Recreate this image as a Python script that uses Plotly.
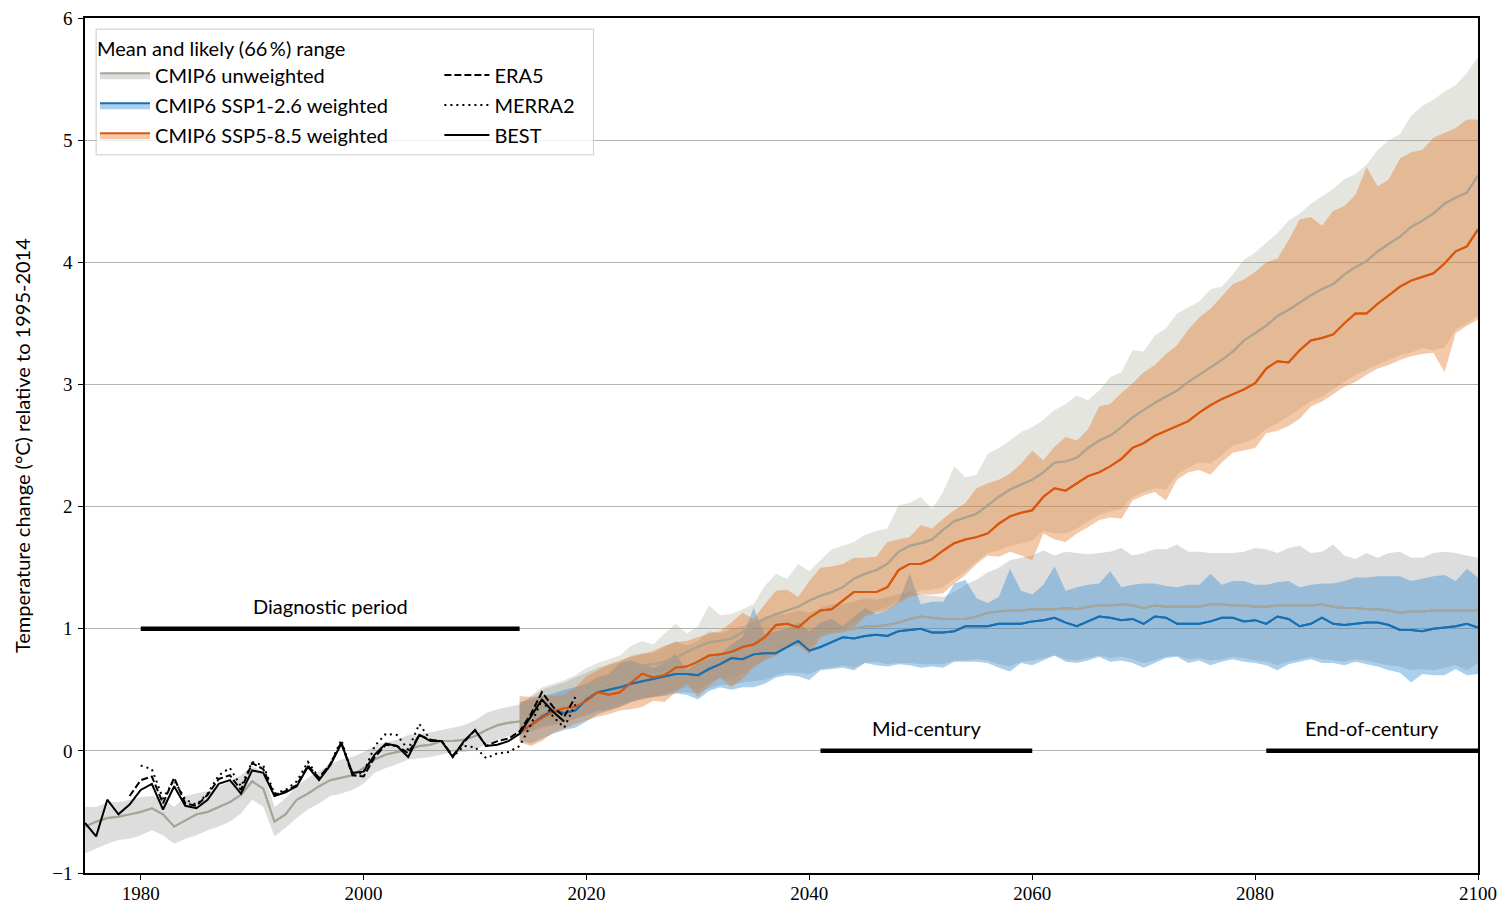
import plotly.graph_objects as go

# ---- historical CMIP6 (unweighted) 1975-2014 ----
hist_years = list(range(1975, 2015))
hist_mean = [-0.62, -0.58, -0.55, -0.54, -0.52, -0.50, -0.47, -0.52, -0.62, -0.57,
             -0.52, -0.50, -0.46, -0.42, -0.36, -0.25, -0.31, -0.58, -0.52, -0.40,
             -0.35, -0.29, -0.24, -0.22, -0.20, -0.14, -0.07, -0.03, -0.01, 0.01,
             0.04, 0.05, 0.08, 0.08, 0.09, 0.12, 0.17, 0.21, 0.23, 0.24]
hist_lo = [-0.84, -0.80, -0.76, -0.73, -0.72, -0.69, -0.65, -0.69, -0.76, -0.72,
           -0.69, -0.65, -0.62, -0.58, -0.51, -0.40, -0.46, -0.70, -0.63, -0.55,
           -0.48, -0.43, -0.37, -0.35, -0.32, -0.27, -0.18, -0.14, -0.11, -0.07,
           -0.06, -0.05, -0.03, -0.01, -0.01, 0.01, 0.05, 0.09, 0.12, 0.13]
hist_hi = [-0.46, -0.46, -0.42, -0.42, -0.40, -0.38, -0.37, -0.39, -0.46, -0.37,
           -0.35, -0.33, -0.29, -0.25, -0.20, -0.13, -0.17, -0.46, -0.39, -0.29,
           -0.22, -0.17, -0.11, -0.07, -0.05, -0.01, 0.04, 0.07, 0.09, 0.13,
           0.14, 0.15, 0.17, 0.19, 0.21, 0.25, 0.31, 0.34, 0.36, 0.38]

# ---- observations ----
best_years = list(range(1975, 2019))
best = [-0.59, -0.70, -0.40, -0.52, -0.44, -0.32, -0.27, -0.48, -0.29, -0.45,
        -0.47, -0.40, -0.27, -0.24, -0.35, -0.16, -0.18, -0.37, -0.34, -0.29,
        -0.13, -0.24, -0.12, 0.06, -0.18, -0.17, -0.03, 0.06, 0.04, -0.05,
        0.13, 0.08, 0.08, -0.05, 0.08, 0.17, 0.04, 0.05, 0.08, 0.14,
        0.28, 0.42, 0.32, 0.24]
era5_years = list(range(1979, 2020))
era5 = [-0.37, -0.24, -0.21, -0.43, -0.22, -0.43, -0.45, -0.36, -0.23, -0.20,
        -0.32, -0.10, -0.15, -0.36, -0.33, -0.28, -0.12, -0.22, -0.11, 0.07,
        -0.20, -0.21, -0.05, 0.05, 0.04, -0.02, 0.13, 0.09, 0.08, -0.04,
        0.07, 0.17, 0.04, 0.08, 0.10, 0.16, 0.30, 0.48, 0.36, 0.28,
        0.44]
merra2_years = list(range(1980, 2020))
merra2 = [-0.12, -0.15, -0.39, -0.24, -0.40, -0.44, -0.35, -0.20, -0.14, -0.29,
          -0.09, -0.12, -0.35, -0.32, -0.25, -0.09, -0.22, -0.11, 0.09, -0.20,
          -0.18, 0.04, 0.14, 0.13, 0.01, 0.22, 0.09, 0.08, -0.05, 0.04,
          0.03, -0.06, -0.02, -0.01, 0.04, 0.21, 0.42, 0.28, 0.19, 0.38]

# ---- projections 2014-2100 ----
proj_years = list(range(2014, 2101))

u85_mean = [0.24, 0.28, 0.33, 0.37, 0.41, 0.44, 0.50, 0.53, 0.56, 0.60,
            0.65, 0.70, 0.71, 0.73, 0.76, 0.81, 0.85, 0.89, 0.90, 0.92,
            0.97, 1.03, 1.08, 1.12, 1.15, 1.18, 1.23, 1.27, 1.30, 1.34,
            1.41, 1.45, 1.48, 1.53, 1.63, 1.68, 1.70, 1.73, 1.81, 1.88,
            1.91, 1.94, 2.01, 2.08, 2.14, 2.18, 2.22, 2.28, 2.36, 2.37,
            2.40, 2.48, 2.54, 2.58, 2.65, 2.73, 2.79, 2.85, 2.90, 2.95,
            3.02, 3.08, 3.14, 3.20, 3.27, 3.36, 3.42, 3.48, 3.56, 3.61,
            3.67, 3.73, 3.78, 3.82, 3.90, 3.96, 4.01, 4.09, 4.15, 4.21,
            4.29, 4.34, 4.40, 4.48, 4.53, 4.57, 4.71]
u85_hi = [0.38, 0.45, 0.52, 0.55, 0.58, 0.62, 0.68, 0.72, 0.75, 0.78,
          0.86, 0.90, 0.87, 0.96, 1.04, 0.96, 1.02, 1.19, 1.11, 1.12,
          1.16, 1.20, 1.35, 1.45, 1.41, 1.53, 1.47, 1.56, 1.65, 1.68,
          1.71, 1.77, 1.80, 1.82, 2.01, 2.03, 2.08, 1.98, 2.12, 2.33,
          2.24, 2.26, 2.43, 2.48, 2.54, 2.61, 2.65, 2.71, 2.79, 2.84,
          2.91, 2.87, 2.95, 3.06, 3.10, 3.28, 3.27, 3.40, 3.46, 3.58,
          3.63, 3.68, 3.78, 3.80, 3.90, 4.02, 4.08, 4.16, 4.24, 4.34,
          4.40, 4.48, 4.54, 4.60, 4.68, 4.72, 4.80, 4.92, 5.00, 5.05,
          5.20, 5.28, 5.33, 5.40, 5.45, 5.55, 5.68]
u85_lo = [0.13, 0.16, 0.20, 0.22, 0.25, 0.27, 0.30, 0.33, 0.33, 0.36,
          0.40, 0.42, 0.44, 0.47, 0.50, 0.52, 0.50, 0.56, 0.60, 0.58,
          0.63, 0.70, 0.75, 0.80, 0.86, 0.87, 0.85, 0.95, 0.98, 1.00,
          1.04, 1.12, 1.15, 1.18, 1.23, 1.28, 1.31, 1.32, 1.34, 1.41,
          1.47, 1.55, 1.62, 1.64, 1.68, 1.70, 1.72, 1.80, 1.78, 1.78,
          1.82, 1.88, 1.93, 1.96, 1.98, 2.08, 2.12, 2.15, 2.14, 2.26,
          2.32, 2.36, 2.35, 2.42, 2.50, 2.52, 2.56, 2.64, 2.68, 2.74,
          2.80, 2.86, 2.90, 2.96, 3.02, 3.08, 3.12, 3.16, 3.20, 3.24,
          3.26, 3.30, 3.28, 3.30, 3.45, 3.50, 3.56]

u26_mean = [0.24, 0.28, 0.32, 0.36, 0.39, 0.42, 0.47, 0.50, 0.52, 0.55,
            0.58, 0.62, 0.63, 0.65, 0.67, 0.69, 0.72, 0.75, 0.77, 0.79,
            0.81, 0.84, 0.86, 0.88, 0.90, 0.92, 0.92, 0.95, 0.97, 0.99,
            1.00, 1.02, 1.02, 1.03, 1.05, 1.08, 1.10, 1.09, 1.08, 1.08,
            1.08, 1.10, 1.13, 1.14, 1.15, 1.15, 1.16, 1.16, 1.16, 1.17,
            1.16, 1.18, 1.19, 1.19, 1.20, 1.19, 1.17, 1.19, 1.18, 1.18,
            1.18, 1.18, 1.20, 1.20, 1.19, 1.19, 1.18, 1.18, 1.19, 1.19,
            1.19, 1.19, 1.20, 1.18, 1.17, 1.17, 1.16, 1.16, 1.15, 1.13,
            1.14, 1.14, 1.15, 1.15, 1.15, 1.15, 1.15]
u26_hi = [0.38, 0.44, 0.50, 0.53, 0.56, 0.60, 0.64, 0.68, 0.70, 0.73,
          0.78, 0.80, 0.80, 0.85, 0.90, 0.86, 0.90, 0.98, 0.96, 1.00,
          1.02, 1.05, 1.10, 1.12, 1.12, 1.15, 1.13, 1.17, 1.20, 1.20,
          1.22, 1.25, 1.24, 1.26, 1.28, 1.30, 1.28, 1.27, 1.26, 1.30,
          1.36, 1.40, 1.46, 1.50, 1.56, 1.58, 1.60, 1.64, 1.60, 1.63,
          1.62, 1.61, 1.62, 1.63, 1.66, 1.60, 1.62, 1.65, 1.65, 1.69,
          1.63, 1.63, 1.62, 1.62, 1.62, 1.63, 1.66, 1.65, 1.62, 1.66,
          1.68, 1.62, 1.63, 1.69, 1.60, 1.57, 1.62, 1.58, 1.62, 1.63,
          1.58, 1.58, 1.62, 1.63, 1.62, 1.60, 1.58]
u26_lo = [0.13, 0.16, 0.19, 0.21, 0.23, 0.26, 0.29, 0.32, 0.34, 0.37,
          0.40, 0.42, 0.44, 0.46, 0.48, 0.48, 0.47, 0.51, 0.54, 0.54,
          0.56, 0.57, 0.58, 0.62, 0.64, 0.64, 0.63, 0.67, 0.68, 0.70,
          0.68, 0.72, 0.73, 0.71, 0.72, 0.72, 0.71, 0.71, 0.71, 0.74,
          0.74, 0.75, 0.74, 0.71, 0.69, 0.73, 0.74, 0.76, 0.78, 0.75,
          0.74, 0.76, 0.78, 0.76, 0.77, 0.75, 0.72, 0.74, 0.77, 0.78,
          0.75, 0.76, 0.74, 0.75, 0.77, 0.76, 0.74, 0.73, 0.70, 0.73,
          0.75, 0.77, 0.75, 0.74, 0.73, 0.75, 0.74, 0.72, 0.70, 0.69,
          0.66, 0.67, 0.66, 0.68, 0.70, 0.66, 0.72]

w26_mean = [0.15, 0.21, 0.28, 0.33, 0.31, 0.33, 0.42, 0.48, 0.50, 0.52,
            0.55, 0.57, 0.59, 0.61, 0.63, 0.63, 0.62, 0.67, 0.71, 0.76,
            0.75, 0.79, 0.80, 0.80, 0.85, 0.90, 0.82, 0.85, 0.89, 0.93,
            0.92, 0.94, 0.95, 0.94, 0.98, 0.99, 1.00, 0.97, 0.97, 0.98,
            1.02, 1.02, 1.02, 1.04, 1.04, 1.04, 1.06, 1.07, 1.09, 1.05,
            1.02, 1.06, 1.10, 1.09, 1.07, 1.08, 1.04, 1.10, 1.09, 1.04,
            1.04, 1.04, 1.06, 1.09, 1.09, 1.06, 1.07, 1.04, 1.10, 1.08,
            1.02, 1.04, 1.09, 1.04, 1.03, 1.04, 1.05, 1.05, 1.03, 0.99,
            0.99, 0.98, 1.00, 1.01, 1.02, 1.04, 1.01]
w26_hi = [0.40, 0.42, 0.45, 0.47, 0.50, 0.52, 0.55, 0.60, 0.63, 0.72,
          0.74, 0.71, 0.68, 0.72, 0.79, 0.66, 0.72, 0.76, 0.79, 0.87,
          0.93, 1.17, 0.95, 0.98, 1.00, 1.05, 0.98, 1.05, 1.08, 1.02,
          1.10, 1.17, 1.12, 1.15, 1.22, 1.45, 1.20, 1.22, 1.22, 1.37,
          1.40, 1.25, 1.21, 1.26, 1.49, 1.31, 1.28, 1.36, 1.51, 1.31,
          1.34, 1.36, 1.37, 1.47, 1.34, 1.36, 1.37, 1.37, 1.35, 1.34,
          1.36, 1.36, 1.45, 1.36, 1.39, 1.39, 1.36, 1.36, 1.38, 1.39,
          1.34, 1.36, 1.37, 1.37, 1.39, 1.42, 1.42, 1.43, 1.43, 1.43,
          1.39, 1.41, 1.43, 1.44, 1.39, 1.49, 1.42]
w26_lo = [0.08, 0.06, 0.10, 0.14, 0.17, 0.19, 0.24, 0.30, 0.33, 0.36,
          0.40, 0.43, 0.44, 0.45, 0.47, 0.46, 0.42, 0.49, 0.52, 0.50,
          0.52, 0.52, 0.55, 0.60, 0.62, 0.61, 0.58, 0.66, 0.67, 0.68,
          0.66, 0.72, 0.70, 0.69, 0.71, 0.70, 0.68, 0.69, 0.68, 0.73,
          0.73, 0.73, 0.72, 0.68, 0.65, 0.72, 0.70, 0.74, 0.78, 0.73,
          0.72, 0.74, 0.77, 0.73, 0.74, 0.72, 0.68, 0.72, 0.76, 0.77,
          0.72, 0.74, 0.70, 0.73, 0.75, 0.73, 0.72, 0.70, 0.66, 0.71,
          0.73, 0.75, 0.72, 0.72, 0.70, 0.73, 0.71, 0.69, 0.66, 0.64,
          0.56, 0.63, 0.62, 0.62, 0.67, 0.62, 0.63]

w85_mean = [0.15, 0.21, 0.27, 0.32, 0.35, 0.36, 0.41, 0.48, 0.46, 0.48,
            0.56, 0.63, 0.60, 0.62, 0.68, 0.69, 0.73, 0.78, 0.79, 0.81,
            0.85, 0.87, 0.93, 1.03, 1.04, 1.01, 1.09, 1.15, 1.16, 1.23,
            1.30, 1.30, 1.30, 1.34, 1.48, 1.53, 1.53, 1.57, 1.64, 1.70,
            1.73, 1.75, 1.78, 1.86, 1.92, 1.95, 1.97, 2.08, 2.15, 2.13,
            2.19, 2.25, 2.28, 2.33, 2.39, 2.48, 2.52, 2.58, 2.62, 2.66,
            2.70, 2.77, 2.83, 2.88, 2.92, 2.96, 3.01, 3.13, 3.19, 3.18,
            3.28, 3.36, 3.38, 3.41, 3.50, 3.58, 3.58, 3.66, 3.73, 3.80,
            3.85, 3.88, 3.91, 3.99, 4.09, 4.13, 4.27]
w85_hi = [0.45, 0.44, 0.45, 0.45, 0.46, 0.52, 0.61, 0.66, 0.71, 0.74,
          0.77, 0.79, 0.82, 0.86, 0.89, 0.90, 0.93, 0.96, 0.98, 1.05,
          1.13, 1.08, 1.20, 1.31, 1.32, 1.26, 1.39, 1.50, 1.51, 1.53,
          1.58, 1.58, 1.59, 1.71, 1.73, 1.75, 1.85, 1.82, 1.90, 1.97,
          2.03, 2.15, 2.19, 2.22, 2.27, 2.35, 2.46, 2.38, 2.49, 2.57,
          2.54, 2.63, 2.82, 2.84, 2.93, 3.01, 3.10, 3.16, 3.25, 3.32,
          3.45, 3.55, 3.62, 3.72, 3.82, 3.86, 3.92, 4.00, 4.03, 4.18,
          4.35, 4.37, 4.30, 4.42, 4.46, 4.55, 4.78, 4.62, 4.68, 4.85,
          4.90, 4.92, 5.02, 5.06, 5.10, 5.17, 5.17]
w85_lo = [0.07, 0.04, 0.08, 0.15, 0.18, 0.22, 0.25, 0.28, 0.30, 0.33,
          0.34, 0.36, 0.41, 0.40, 0.48, 0.55, 0.44, 0.53, 0.60, 0.52,
          0.59, 0.68, 0.74, 0.78, 0.85, 0.86, 0.79, 0.93, 0.96, 0.97,
          1.01, 1.10, 1.13, 1.15, 1.21, 1.26, 1.28, 1.28, 1.29, 1.37,
          1.44, 1.53, 1.60, 1.59, 1.63, 1.60, 1.56, 1.78, 1.73, 1.71,
          1.78, 1.83, 1.89, 1.91, 1.90, 2.05, 2.09, 2.12, 2.05, 2.22,
          2.28, 2.30, 2.26, 2.36, 2.44, 2.46, 2.48, 2.60, 2.62, 2.66,
          2.72, 2.82, 2.86, 2.92, 2.98, 3.02, 3.08, 3.13, 3.16, 3.20,
          3.23, 3.25, 3.26, 3.10, 3.42, 3.48, 3.53]

# ---- periods marked with black bars ----
period_names = ["Diagnostic period", "Mid-century", "End-of-century"]
period_start = [1980, 2041, 2081]
period_end = [2014, 2060, 2100]
period_level = [1, 0, 0]

GREY_FILL = "rgba(120,120,120,0.25)"
GREY85_FILL = "rgba(160,160,140,0.28)"
GREY_LINE = "#a9a596"
BLUE_FILL = "rgba(70,150,210,0.45)"
BLUE_LINE = "#1670b5"
ORANGE_FILL = "rgba(225,120,40,0.40)"
ORANGE_LINE = "#d9570d"

SANS = "Lato, 'DejaVu Sans', sans-serif"
SERIF = "'Liberation Serif', 'DejaVu Serif', serif"
FS = 20

fig = go.Figure()


def add_band(x, lo, mean, hi, fill, color, name, group, show):
    # lower edge -> mean -> upper edge, so the mean trace carries fill + line in the legend
    fig.add_trace(go.Scatter(x=x, y=lo, mode="lines", line=dict(width=0),
                             legendgroup=group, showlegend=False, hoverinfo="skip"))
    fig.add_trace(go.Scatter(x=x, y=mean, mode="lines", fill="tonexty", fillcolor=fill,
                             line=dict(color=color, width=2), name=name,
                             legendgroup=group, showlegend=show))
    fig.add_trace(go.Scatter(x=x, y=hi, mode="lines", fill="tonexty", fillcolor=fill,
                             line=dict(width=0), legendgroup=group,
                             showlegend=False, hoverinfo="skip"))


add_band(hist_years, hist_lo, hist_mean, hist_hi, GREY_FILL, GREY_LINE, "CMIP6 unweighted", "unw", True)
add_band(proj_years, u26_lo, u26_mean, u26_hi, GREY_FILL, GREY_LINE, "CMIP6 unweighted", "unw", False)
add_band(proj_years, u85_lo, u85_mean, u85_hi, GREY85_FILL, GREY_LINE, "CMIP6 unweighted", "unw", False)
add_band(proj_years, w26_lo, w26_mean, w26_hi, BLUE_FILL, BLUE_LINE, "CMIP6 SSP1-2.6 weighted", "w26", True)
add_band(proj_years, w85_lo, w85_mean, w85_hi, ORANGE_FILL, ORANGE_LINE, "CMIP6 SSP5-8.5 weighted", "w85", True)

# mean lines again on top of all the shading
for xs, ys, c, g in [(hist_years, hist_mean, GREY_LINE, "unw"), (proj_years, u26_mean, GREY_LINE, "unw"),
                     (proj_years, u85_mean, GREY_LINE, "unw"), (proj_years, w26_mean, BLUE_LINE, "w26"),
                     (proj_years, w85_mean, ORANGE_LINE, "w85")]:
    fig.add_trace(go.Scatter(x=xs, y=ys, mode="lines", line=dict(color=c, width=2),
                             legendgroup=g, showlegend=False, hoverinfo="skip"))

# observations
fig.add_trace(go.Scatter(x=era5_years, y=era5, mode="lines", name="ERA5", legend="legend2",
                         legendgroup="era5", line=dict(color="black", width=2, dash="7px,3px")))
fig.add_trace(go.Scatter(x=merra2_years, y=merra2, mode="lines", name="MERRA2", legend="legend2",
                         legendgroup="merra2", line=dict(color="black", width=2, dash="2px,4px")))
fig.add_trace(go.Scatter(x=best_years, y=best, mode="lines", name="BEST", legend="legend2",
                         legendgroup="best", line=dict(color="black", width=2)))

annotations = []
for nm, s, e, lv in zip(period_names, period_start, period_end, period_level):
    fig.add_trace(go.Scatter(x=[s, e], y=[lv, lv], mode="lines", showlegend=False,
                             line=dict(color="black", width=4.5), hoverinfo="skip"))
    annotations.append(dict(x=(s + e) / 2, y=lv, text=nm, showarrow=False,
                            xanchor="center", yanchor="bottom", yshift=9,
                            font=dict(family=SANS, size=FS, color="black")))

annotations.append(dict(x=-0.0455, y=0.5, xref="paper", yref="paper", showarrow=False,
                        text="Temperature change (°C) relative to 1995-2014", textangle=-90,
                        xanchor="center", yanchor="middle",
                        font=dict(family=SANS, size=FS, color="black")))

fig.update_layout(
    width=1503, height=906,
    margin=dict(l=85, r=25, t=18, b=33),
    plot_bgcolor="white", paper_bgcolor="white",
    font=dict(family=SANS, size=FS, color="black"),
    annotations=annotations,
    legend=dict(x=0.0072, y=0.9862, xanchor="left", yanchor="top", itemwidth=50,
                bgcolor="rgba(0,0,0,0)", borderwidth=0, tracegroupgap=1,
                title=dict(text="Mean and likely (66\u2009%) range", font=dict(family=SANS, size=FS)),
                font=dict(family=SANS, size=FS)),
    legend2=dict(x=0.2544, y=0.956, xanchor="left", yanchor="top", itemwidth=45,
                 bgcolor="rgba(0,0,0,0)", borderwidth=0, tracegroupgap=1,
                 font=dict(family=SANS, size=FS)),
    shapes=[dict(type="rect", xref="paper", yref="paper",
                 x0=0.008, x1=0.365, y0=0.840, y1=0.987,
                 line=dict(color="#cccccc", width=1),
                 fillcolor="rgba(255,255,255,0.8)", layer="above")],
)

fig.update_xaxes(range=[1975, 2100], tickvals=[1980, 2000, 2020, 2040, 2060, 2080, 2100],
                 showgrid=False, zeroline=False, showline=True, linecolor="black",
                 linewidth=1.5, mirror=True, ticks="outside", ticklen=5, tickcolor="black",
                 automargin=False, ticklabelstandoff=-3, tickfont=dict(family=SERIF, size=19))
fig.update_yaxes(range=[-1, 6], dtick=1, showgrid=True, gridcolor="#b4b4b4", gridwidth=1,
                 zeroline=False, showline=True, linecolor="black", linewidth=1.5,
                 mirror=True, ticks="outside", ticklen=5, tickcolor="black",
                 automargin=False, ticklabelstandoff=2, tickfont=dict(family=SERIF, size=19))

fig.write_html("out.html", config={"displayModeBar": False},
               post_script="document.body.style.margin='0';")
